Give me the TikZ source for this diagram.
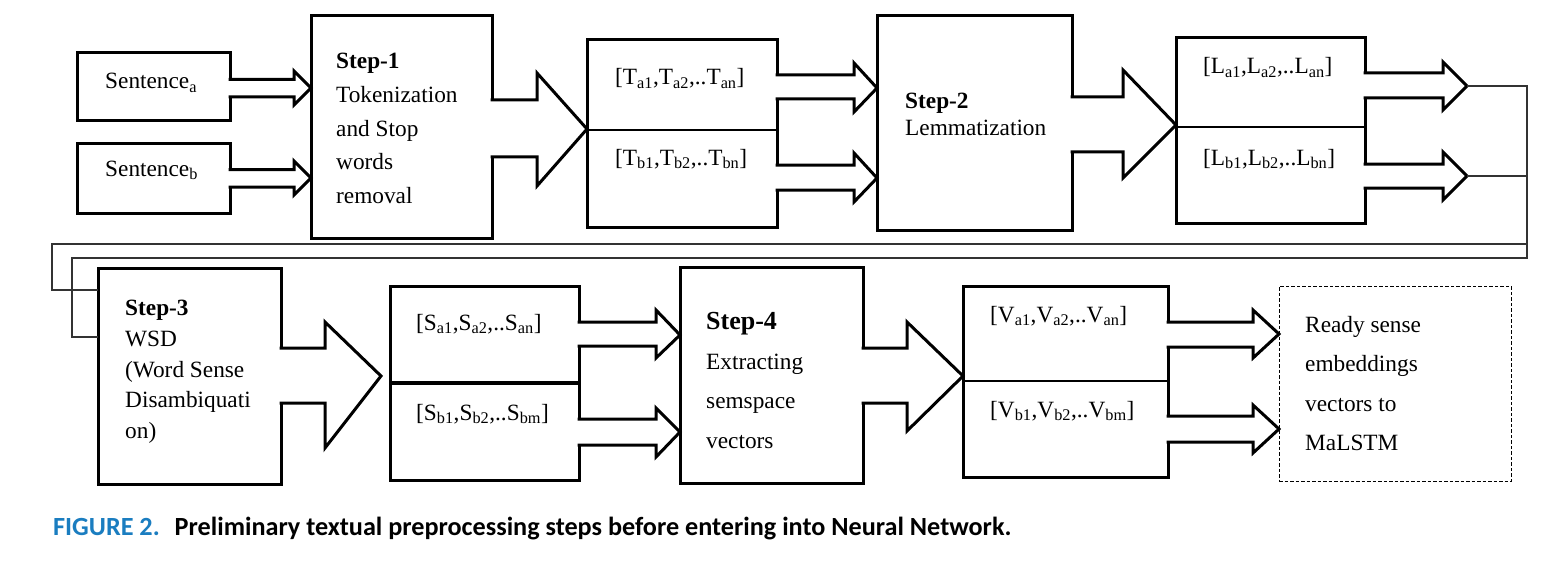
\documentclass[tikz,border=0pt]{standalone}
\usepackage{fontspec}
\setmainfont{Liberation Serif}
\newfontfamily\captionfont{Carlito}
\usepackage{xcolor}
\usepackage{tikz}
\definecolor{figblue}{HTML}{1A7DC0}
\tikzstyle{stepbox}=[draw=black, line width=3pt, shape=rectangle, fill=white, inner sep=0pt, outer sep=0pt]
\tikzstyle{readybox}=[draw=black, line width=1pt, dash pattern=on 3.5pt off 2pt, shape=rectangle, inner sep=0pt, outer sep=0pt]
\tikzstyle{boxtext}=[black, inner sep=0pt, anchor=north west, align=left]
\tikzstyle{listtext}=[black, inner sep=0pt, anchor=base west, font=\rmfamily\fontsize{23.3}{28}\selectfont]
\tikzstyle{blockarrow}=[draw=black, line width=3pt, fill=white, line join=miter]
\tikzstyle{divider}=[draw=black, line width=2.5pt]
\tikzstyle{link}=[draw=black!80, line width=1.3pt]

\begin{document}
\begin{tikzpicture}[x=1pt, y=-1pt]
\path[fill=white, use as bounding box] (0,0) rectangle (1566,567);

\node [stepbox, minimum width=153pt, minimum height=68pt] (senta) at (153.5,87) {};
\node [stepbox, minimum width=153pt, minimum height=69pt] (sentb) at (153.5,178.5) {};
\node [stepbox, minimum width=181pt, minimum height=222pt] (stepone) at (401.5,127) {};
\node [stepbox, minimum width=190pt, minimum height=187pt] (tbox) at (682,133.5) {};
\node [stepbox, minimum width=195pt, minimum height=214pt] (steptwo) at (974.5,123) {};
\node [stepbox, minimum width=189pt, minimum height=185pt] (lbox) at (1270.5,130.5) {};
\node [stepbox, minimum width=183pt, minimum height=216pt] (stepthree) at (189.5,376) {};
\node [stepbox, minimum width=189pt, minimum height=194pt] (sbox) at (484.5,383) {};
\node [stepbox, minimum width=183pt, minimum height=216pt] (stepfour) at (771.5,375) {};
\node [stepbox, minimum width=205pt, minimum height=191pt] (vbox) at (1065.5,381.5) {};
\node [readybox, minimum width=232pt, minimum height=195pt] (ready) at (1395,383.5) {};
\coordinate (lbtipa) at (1467,86);
\coordinate (lbtipb) at (1467,176);

\draw[divider] (tbox.west |- 0,130) -- (tbox.east |- 0,130);
\draw[divider] (lbox.west |- 0,127) -- (lbox.east |- 0,127);
\draw[divider, line width=4.5pt] (sbox.west |- 0,383) -- (sbox.east |- 0,383);
\draw[divider] (vbox.west |- 0,381) -- (vbox.east |- 0,381);

\node [listtext] (senttexta) at (105,89) {Sentence\textsubscript{a}};
\node [listtext] (senttextb) at (105,176) {Sentence\textsubscript{b}};
\node [boxtext, font=\rmfamily\fontsize{23.3}{33.7}\selectfont] (steponetext) at (336,53) {\textbf{Step-1}\\Tokenization\\and Stop\\words\\removal};
\node [listtext] (tlista) at (615,85) {[T\textsubscript{a1},T\textsubscript{a2},..T\textsubscript{an}]};
\node [listtext] (tlistb) at (615,165) {[T\textsubscript{b1},T\textsubscript{b2},..T\textsubscript{bn}]};
\node [boxtext, font=\rmfamily\fontsize{23.3}{27}\selectfont] (steptwotext) at (905,92.5) {\textbf{Step-2}\\Lemmatization};
\node [listtext] (llista) at (1203,74) {[L\textsubscript{a1},L\textsubscript{a2},..L\textsubscript{an}]};
\node [listtext] (llistb) at (1203,165) {[L\textsubscript{b1},L\textsubscript{b2},..L\textsubscript{bn}]};
\node [boxtext, font=\rmfamily\fontsize{23.3}{30.7}\selectfont] (stepthreetext) at (125,300) {\textbf{Step-3}\\WSD\\(Word Sense\\Disambiquati\\on)};
\node [listtext] (slista) at (416,330) {[S\textsubscript{a1},S\textsubscript{a2},..S\textsubscript{an}]};
\node [listtext] (slistb) at (416,420) {[S\textsubscript{b1},S\textsubscript{b2},..S\textsubscript{bm}]};
\node [boxtext, font=\rmfamily\fontsize{23.3}{39.5}\selectfont] (stepfourtext) at (706,312.5) {{\fontsize{26}{39.5}\selectfont\bfseries Step-4}\\Extracting\\semspace\\vectors};
\node [listtext] (vlista) at (990,322) {[V\textsubscript{a1},V\textsubscript{a2},..V\textsubscript{an}]};
\node [listtext] (vlistb) at (990,417) {[V\textsubscript{b1},V\textsubscript{b2},..V\textsubscript{bm}]};
\node [boxtext, font=\rmfamily\fontsize{23.3}{39.5}\selectfont] (readytext) at (1305,316) {Ready sense\\embeddings\\vectors to\\MaLSTM};

\draw[blockarrow] ([xshift=-1.5pt]senta.east |- 0,79.5) -- (294,79.5) -- (294,71) -- (stepone.west |- 0,88) -- (294,105) -- (294,97) -- ([xshift=-1.5pt]senta.east |- 0,97);
\draw[blockarrow] ([xshift=-1.5pt]sentb.east |- 0,169.5) -- (294,169.5) -- (294,161) -- (stepone.west |- 0,178) -- (294,195) -- (294,187) -- ([xshift=-1.5pt]sentb.east |- 0,187);
\draw[blockarrow] ([xshift=-1.5pt]stepone.east |- 0,100) -- (537,100) -- (537,73) -- (tbox.west |- 0,129) -- (537,186) -- (537,157) -- ([xshift=-1.5pt]stepone.east |- 0,157);
\draw[blockarrow] ([xshift=-1.5pt]tbox.east |- 0,75) -- (854,75) -- (854,63) -- (steptwo.west |- 0,88) -- (854,112) -- (854,99) -- ([xshift=-1.5pt]tbox.east |- 0,99);
\draw[blockarrow] ([xshift=-1.5pt]tbox.east |- 0,165) -- (854,165) -- (854,153) -- (steptwo.west |- 0,178) -- (854,202) -- (854,190) -- ([xshift=-1.5pt]tbox.east |- 0,190);
\draw[blockarrow] ([xshift=-1.5pt]steptwo.east |- 0,97) -- (1123,97) -- (1123,70) -- (lbox.west |- 0,125) -- (1123,178) -- (1123,152) -- ([xshift=-1.5pt]steptwo.east |- 0,152);
\draw[blockarrow] ([xshift=-1.5pt]lbox.east |- 0,73) -- (1443,73) -- (1443,62) -- (lbtipa) -- (1443,110) -- (1443,98) -- ([xshift=-1.5pt]lbox.east |- 0,98);
\draw[blockarrow] ([xshift=-1.5pt]lbox.east |- 0,164) -- (1443,164) -- (1443,152) -- (lbtipb) -- (1443,200) -- (1443,188) -- ([xshift=-1.5pt]lbox.east |- 0,188);
\draw[blockarrow] ([xshift=-1.5pt]stepthree.east |- 0,348) -- (325,348) -- (325,322) -- ([xshift=-9pt]sbox.west |- 0,376) -- (325,448) -- (325,403) -- ([xshift=-1.5pt]stepthree.east |- 0,403);
\draw[blockarrow] ([xshift=-1.5pt]sbox.east |- 0,322) -- (656,322) -- (656,310) -- (stepfour.west |- 0,335) -- (656,358) -- (656,346) -- ([xshift=-1.5pt]sbox.east |- 0,346);
\draw[blockarrow] ([xshift=-1.5pt]sbox.east |- 0,419) -- (656,419) -- (656,408) -- (stepfour.west |- 0,432) -- (656,457) -- (656,445) -- ([xshift=-1.5pt]sbox.east |- 0,445);
\draw[blockarrow] ([xshift=-1.5pt]stepfour.east |- 0,348) -- (907,348) -- (907,322) -- (vbox.west |- 0,376) -- (907,431) -- (907,403) -- ([xshift=-1.5pt]stepfour.east |- 0,403);
\draw[blockarrow] ([xshift=-1.5pt]vbox.east |- 0,322) -- (1253,322) -- (1253,310) -- (ready.west |- 0,334) -- (1253,358) -- (1253,347) -- ([xshift=-1.5pt]vbox.east |- 0,347);
\draw[blockarrow] ([xshift=-1.5pt]vbox.east |- 0,416) -- (1253,416) -- (1253,405) -- (ready.west |- 0,429) -- (1253,453) -- (1253,442) -- ([xshift=-1.5pt]vbox.east |- 0,442);

\draw[link] (lbtipa) -- (1527,86) -- (1527,244) -- (52,244) -- (52,290) -- (stepthree.west |- 0,290);
\draw[link] (lbtipb) -- (1527,176) -- (1527,258) -- (72,258) -- (72,337) -- (stepthree.west |- 0,337);

\node [inner sep=0pt, anchor=base west, font=\captionfont\bfseries\fontsize{26.2}{31}\selectfont] (caption) at (53,535) {\textcolor{figblue}{FIGURE 2.}\hspace{15pt}Preliminary textual preprocessing steps before entering into Neural Network.};
\end{tikzpicture}
\end{document}
